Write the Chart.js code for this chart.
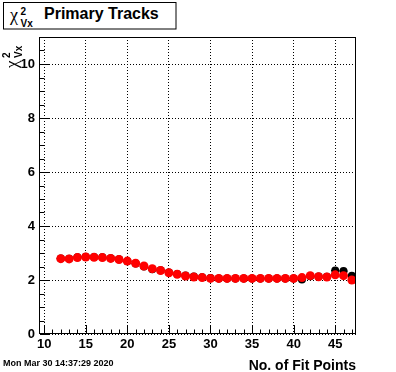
<!DOCTYPE html>
<html>
<head>
<meta charset="utf-8">
<script src="https://cdn.jsdelivr.net/npm/chart.js@4.4.1/dist/chart.umd.min.js"></script>
<style>
  html, body { margin: 0; padding: 0; background: #fff; }
  #wrap { position: relative; width: 396px; height: 372px; }
  #chart { position: absolute; left: 0; top: 0; }
  #labels { position: absolute; left: 0; top: 0; pointer-events: none; }
  .b { font-family: 'Liberation Sans', Arial, sans-serif; font-weight: bold; }
  .g { font-family: 'Liberation Serif', serif; }
</style>
</head>
<body>
<div id="wrap">
  <canvas id="chart" width="396" height="372"></canvas>
  <svg id="labels" width="396" height="372">
    <!-- title box -->
    <rect x="3.5" y="2.5" width="172.5" height="26.5" fill="#fff" stroke="#000" stroke-width="1"/>
    <text class="g" x="10" y="21" font-size="18">χ</text>
    <text class="b" x="20.5" y="15" font-size="10">2</text>
    <text class="b" x="20.5" y="27" font-size="10">Vx</text>
    <text class="b" x="44" y="19" font-size="16">Primary Tracks</text>
    <!-- y axis title -->
    <g transform="translate(17,68) rotate(-90)">
      <text class="g" x="0" y="0" font-size="17">χ</text>
      <text class="b" x="10" y="-7" font-size="10">2</text>
      <text class="b" x="10" y="5" font-size="10">Vx</text>
    </g>
    <!-- x axis title and date -->
    <text class="b" x="356" y="370" font-size="14" text-anchor="end">No. of Fit Points</text>
    <text class="b" x="3" y="366" font-size="9">Mon Mar 30 14:37:29 2020</text>
  </svg>
</div>
<script>
// data
const fitPoints = [12, 13, 14, 15, 16, 17, 18, 19, 20, 21, 22, 23, 24, 25, 26, 27, 28, 29,
                   30, 31, 32, 33, 34, 35, 36, 37, 38, 39, 40, 41, 42, 43, 44, 45, 46, 47];
// black: all tracks
const chi2All = [2.80, 2.79, 2.84, 2.86, 2.85, 2.84, 2.81, 2.77, 2.69, 2.61, 2.50, 2.40,
                 2.36, 2.28, 2.22, 2.17, 2.13, 2.10, 2.07, 2.06, 2.06, 2.06, 2.06, 2.06,
                 2.06, 2.06, 2.06, 2.06, 2.06, 2.02, 2.14, 2.13, 2.12, 2.35, 2.33, 2.16];
const chi2AllErr = [0.02, 0.02, 0.02, 0.02, 0.02, 0.02, 0.02, 0.02, 0.02, 0.02, 0.02, 0.02,
                    0.02, 0.02, 0.02, 0.02, 0.02, 0.02, 0.02, 0.02, 0.02, 0.02, 0.02, 0.02,
                    0.02, 0.02, 0.02, 0.03, 0.03, 0.04, 0.05, 0.05, 0.06, 0.12, 0.12, 0.10];
// red: primary tracks
const chi2Primary = [2.79, 2.78, 2.83, 2.85, 2.84, 2.83, 2.80, 2.76, 2.70, 2.62, 2.52, 2.42,
                     2.35, 2.27, 2.21, 2.15, 2.11, 2.09, 2.06, 2.06, 2.06, 2.06, 2.06, 2.06,
                     2.06, 2.06, 2.06, 2.06, 2.06, 2.09, 2.16, 2.12, 2.11, 2.19, 2.16, 2.00];

const xTicks = [10, 15, 20, 25, 30, 35, 40, 45];
const yTicks = [0, 2, 4, 6, 8, 10];

const tickFont = { family: "'Liberation Sans', Arial, sans-serif", size: 13, weight: 'bold' };

// error bars for the black histogram (bin width + y error)
const errorBars = {
    id: 'errorBars',
    afterDatasetDraw(chart, args) {
        if (args.index !== 0) return;
        const ctx = chart.ctx, xs = chart.scales.x, ys = chart.scales.y;
        ctx.save();
        ctx.beginPath();
        ctx.rect(chart.chartArea.left, chart.chartArea.top,
                 chart.chartArea.right - chart.chartArea.left,
                 chart.chartArea.bottom - chart.chartArea.top);
        ctx.clip();
        ctx.strokeStyle = '#000';
        ctx.lineWidth = 1;
        ctx.beginPath();
        fitPoints.forEach((x, i) => {
            const y = ys.getPixelForValue(chi2All[i]);
            ctx.moveTo(xs.getPixelForValue(x - 0.5), y);
            ctx.lineTo(xs.getPixelForValue(x + 0.5), y);
            const px = Math.round(xs.getPixelForValue(x)) + 0.5;
            ctx.moveTo(px, ys.getPixelForValue(chi2All[i] - chi2AllErr[i]));
            ctx.lineTo(px, ys.getPixelForValue(chi2All[i] + chi2AllErr[i]));
        });
        ctx.stroke();
        ctx.restore();
    }
};

// ROOT style frame with inside ticks
const frame = {
    id: 'frame',
    afterDraw(chart) {
        const ctx = chart.ctx, a = chart.chartArea;
        const xs = chart.scales.x, ys = chart.scales.y;
        ctx.save();
        ctx.strokeStyle = '#000';
        ctx.lineWidth = 1;
        ctx.beginPath();
        for (let v = 10; v <= 47; v++) {
            const len = v % 5 === 0 ? 9 : 4.5;
            const px = Math.round(xs.getPixelForValue(v)) + 0.5;
            ctx.moveTo(px, a.bottom);
            ctx.lineTo(px, a.bottom - len);
        }
        for (let v = 0; v <= 11; v += 0.5) {
            const len = v % 2 === 0 ? 9 : 4.5;
            const py = Math.round(ys.getPixelForValue(v)) + 0.5;
            ctx.moveTo(a.left, py);
            ctx.lineTo(a.left + len, py);
        }
        ctx.stroke();
        ctx.strokeRect(Math.round(a.left) - 0.5, Math.round(a.top) + 0.5,
                       Math.round(a.right - a.left), Math.round(a.bottom - a.top) - 1);
        ctx.restore();
    }
};

new Chart(document.getElementById('chart'), {
    type: 'scatter',
    data: {
        datasets: [{
            label: 'all',
            data: fitPoints.map((x, i) => ({ x: x, y: chi2All[i] })),
            backgroundColor: '#000',
            borderWidth: 0,
            pointRadius: 4,
            order: 2
        }, {
            label: 'primary',
            data: fitPoints.map((x, i) => ({ x: x, y: chi2Primary[i] })),
            backgroundColor: '#ff0000',
            borderWidth: 0,
            pointRadius: 4.5,
            order: 1
        }]
    },
    options: {
        responsive: false,
        animation: false,
        layout: { padding: { left: 0, top: 37, right: 40, bottom: 0 } },
        plugins: {
            legend: { display: false },
            tooltip: { enabled: false }
        },
        scales: {
            x: {
                type: 'linear',
                min: 9.5,
                max: 47.5,
                afterBuildTicks: s => { s.ticks = xTicks.map(v => ({ value: v })); },
                afterFit: s => { s.height = 38; },
                grid: { color: '#000', lineWidth: 1, drawTicks: false },
                border: { display: false, dash: [1, 2] },
                ticks: { font: tickFont, color: '#000', padding: 3, maxRotation: 0, autoSkip: false }
            },
            y: {
                type: 'linear',
                min: 0,
                max: 11,
                afterBuildTicks: s => { s.ticks = yTicks.map(v => ({ value: v })); },
                afterFit: s => { s.width = 40; },
                grid: { color: '#000', lineWidth: 1, drawTicks: false },
                border: { display: false, dash: [1, 2] },
                ticks: { font: tickFont, color: '#000', padding: 5, autoSkip: false }
            }
        }
    },
    plugins: [errorBars, frame]
});
</script>
</body>
</html>
